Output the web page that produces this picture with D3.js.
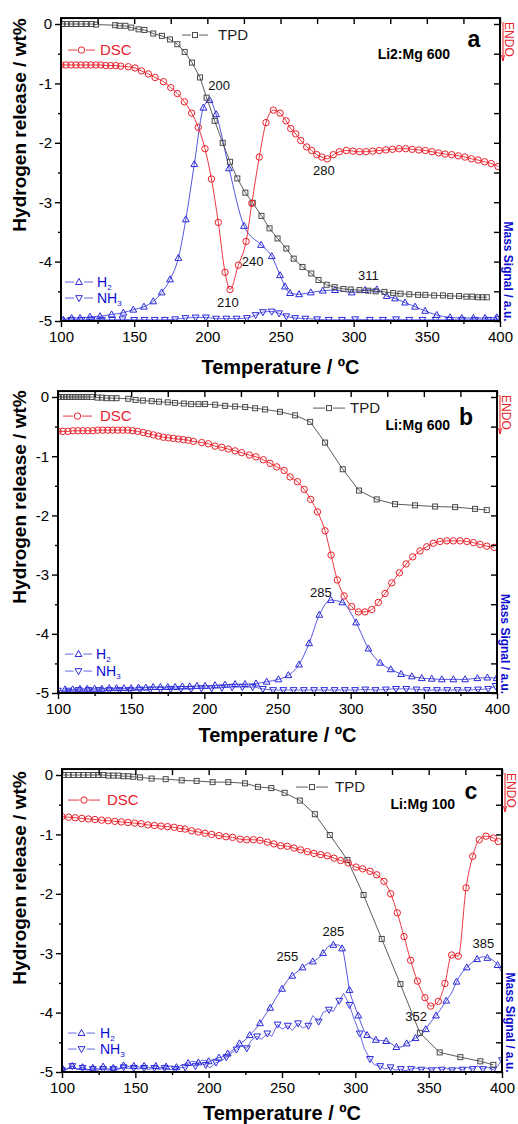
<!DOCTYPE html>
<html lang="en">
<head>
<meta charset="UTF-8">
<title>TPD / DSC / MS - Li:Mg samples</title>
<script src="https://cdn.jsdelivr.net/npm/d3@7"></script>
<style>
  body { margin: 0; background: #fff; }
  svg { font-family: Arial, "Liberation Sans", sans-serif; }
</style>
</head>
<body>
<div id="chart"></div>
<script>
// ---- tick values ----
var xMajor = [100, 150, 200, 250, 300, 350, 400];
var xMinor = [125, 175, 225, 275, 325, 375];
var xAll = [100, 125, 150, 175, 200, 225, 250, 275, 300, 325, 350, 375, 400];
var yMajor = [0, -1, -2, -3, -4, -5];
var yMinor = [-0.5, -1.5, -2.5, -3.5, -4.5];
var yAll = [0, -0.5, -1, -1.5, -2, -2.5, -3, -3.5, -4, -4.5, -5];

// ---- panel a : Li2:Mg 600 ----  [temperature, value]
var tpdA = [[101,0],[104,0],[107,0],[110,0],[114,0],[117,0],[121,0],[124,-0.01],[137,-0.02],[140,-0.03],[144,-0.03],
  [148,-0.06],[153,-0.09],[157,-0.1],[163,-0.16],[169,-0.2],[174.5,-0.26],[179.5,-0.34],[184.5,-0.47],[189.5,-0.65],
  [195,-0.9],[199.5,-1.24],[205,-1.63],[210.5,-2.0],[215.5,-2.32],[220.5,-2.6],[226,-2.84],[231,-3.01],[237,-3.23],
  [242.5,-3.44],[248,-3.61],[254,-3.78],[259,-3.95],[265,-4.09],[271,-4.2],[276,-4.31],[281.5,-4.39],[287,-4.43],
  [293,-4.46],[298,-4.47],[304,-4.48],[310,-4.49],[315,-4.5],[321,-4.51],[327,-4.53],[332,-4.54],[338,-4.55],
  [344,-4.56],[349,-4.56],[355,-4.57],[361,-4.57],[366,-4.58],[372,-4.58],[377,-4.59],[381,-4.59],[385,-4.6],
  [388,-4.6],[391,-4.6]];
var dscA = [[100,-0.69],[103.4,-0.69],[106.8,-0.69],[110.2,-0.69],[113.6,-0.69],[117,-0.69],[120.4,-0.69],
  [123.8,-0.69],[127.2,-0.69],[130.6,-0.7],[134,-0.7],[137.4,-0.7],[140.8,-0.71],[146,-0.72],[150.6,-0.74],
  [155,-0.79],[159.7,-0.84],[164.3,-0.9],[170,-0.97],[175,-1.07],[179.5,-1.17],[184.3,-1.31],[189.3,-1.5],
  [193.8,-1.74],[198.4,-2.1],[202.8,-2.61],[207.5,-3.34],[212.1,-4.18],[215.5,-4.47],[221.2,-4.06],[226.5,-3.66],
  [230.4,-3.02],[235.5,-2.24],[240.1,-1.66],[245.1,-1.45],[249.7,-1.5],[253.8,-1.63],[257,-1.76],[260.4,-1.85],
  [263.8,-1.96],[267.9,-2.07],[271.3,-2.13],[274.8,-2.2],[278.2,-2.24],[282,-2.27],[286.1,-2.2],[290.2,-2.15],
  [295,-2.13],[299.5,-2.14],[304,-2.15],[308.5,-2.15],[313,-2.14],[317.5,-2.13],[322,-2.12],[326.5,-2.11],
  [331,-2.1],[335.5,-2.1],[340,-2.11],[344.5,-2.12],[349,-2.13],[353.5,-2.15],[358,-2.17],[362.5,-2.19],
  [367,-2.2],[371.5,-2.22],[376,-2.24],[380.5,-2.27],[385,-2.29],[389.5,-2.32],[394,-2.35],[398.7,-2.4]];
var h2A = [[101.6,-4.98],[107.3,-4.95],[113,-4.95],[119.8,-4.93],[126.7,-4.92],[134.6,-4.89],[142.6,-4.86],
  [149.4,-4.81],[156.7,-4.76],[163,-4.67],[168.8,-4.52],[174.5,-4.3],[180.2,-3.94],[185.3,-3.29],[191.1,-2.36],
  [197.3,-1.41],[201.5,-1.28],[206,-1.52],[214.8,-2.43],[225.1,-3.4],[236.7,-3.72],[244,-3.91],[249.7,-4.23],
  [253.1,-4.42],[256.5,-4.53],[262.7,-4.55],[270.7,-4.52],[278.9,-4.49],[287.3,-4.48],[298.7,-4.52],[307.8,-4.48],
  [315.8,-4.47],[322.6,-4.58],[328.3,-4.62],[335.1,-4.69],[342,-4.76],[348.8,-4.83],[356.8,-4.9],[365.9,-4.94],
  [373.9,-4.95],[381.8,-4.95],[389.8,-4.95],[397.8,-4.94]];
var nh3A = [[100,-4.99],[107,-4.98],[114,-4.98],[121,-4.98],[128,-4.98],[135,-4.98],[142,-4.97],[150,-4.98],
  [157,-4.98],[164,-4.98],[171,-4.98],[178,-4.97],[185,-4.95],[192,-4.94],[199,-4.94],[206,-4.96],[213,-4.96],
  [220,-4.96],[227,-4.95],[233,-4.9],[238,-4.85],[244,-4.84],[249,-4.87],[254,-4.92],[260,-4.95],[267,-4.96],
  [275,-4.97],[283,-4.98],[292,-4.98],[301,-4.97],[311,-4.98],[320,-4.98],[329,-4.97],[338,-4.98],[347,-4.98],
  [356,-4.98],[365,-4.98],[374,-4.98],[383,-4.98],[392,-4.98],[399,-4.96]];
var notesA = [["200", 208, -1.03], ["240", 231, -3.99], ["210", 214, -4.68], ["311", 310, -4.23], ["280", 279.6, -2.46]];

// ---- panel b : Li:Mg 600 ----
var tpdB = [[100,0],[102,0],[104,0],[106,0],[108,0],[110,0],[112,0],[114,0],[116,0],[118,0],[120,0],[123,0],
  [127,-0.01],[130,-0.01],[133,-0.02],[137,-0.02],[140,-0.02],[148,-0.03],[153,-0.05],[158,-0.06],[164,-0.07],
  [169,-0.08],[175,-0.09],[180,-0.1],[186,-0.11],[191,-0.12],[196,-0.12],[200.5,-0.12],[207.4,-0.13],[214.2,-0.15],
  [221,-0.16],[227.9,-0.17],[234.7,-0.19],[241.5,-0.21],[251.7,-0.25],[262,-0.31],[272.3,-0.42],[282.5,-0.77],
  [294.6,-1.22],[305.7,-1.58],[317.8,-1.73],[330.3,-1.81],[344,-1.83],[357.7,-1.85],[371.4,-1.86],[385,-1.89],
  [393,-1.91]];
var dscB = [[100,-0.58],[103.4,-0.58],[106.8,-0.58],[110.2,-0.57],[113.6,-0.57],[117,-0.57],[120.4,-0.57],
  [123.8,-0.57],[127.2,-0.56],[130.6,-0.56],[134,-0.56],[137.4,-0.56],[140.8,-0.56],[144.2,-0.56],[147.6,-0.56],
  [151,-0.57],[154.4,-0.58],[158.3,-0.6],[161.7,-0.62],[165.2,-0.64],[168.6,-0.66],[172,-0.68],[175.4,-0.69],
  [178.8,-0.7],[182.2,-0.71],[185.6,-0.72],[189,-0.73],[192.5,-0.75],[198.2,-0.77],[202.8,-0.79],[207.3,-0.83],
  [211.9,-0.85],[216.4,-0.88],[221,-0.91],[225.5,-0.94],[230.8,-0.98],[235.3,-1.01],[240.3,-1.06],[244.9,-1.12],
  [249.5,-1.18],[254.5,-1.24],[258.6,-1.35],[263.6,-1.43],[268.2,-1.56],[272.7,-1.73],[277.3,-1.94],[282.5,-2.26],
  [286.6,-2.67],[290.9,-3.09],[295.5,-3.36],[300.7,-3.54],[305.3,-3.63],[309.8,-3.63],[314.4,-3.59],[318.9,-3.47],
  [323.5,-3.32],[328.1,-3.14],[333.3,-2.97],[337.9,-2.82],[342.4,-2.7],[347.4,-2.6],[352,-2.53],[356.5,-2.47],
  [361.1,-2.44],[365.7,-2.43],[370.2,-2.43],[374.8,-2.43],[379.4,-2.44],[383.9,-2.46],[388.4,-2.49],[393,-2.52],
  [398,-2.54]];
var h2B = [[104.8,-4.94],[110,-4.94],[115,-4.93],[120,-4.93],[125,-4.93],[130,-4.93],[135,-4.92],[140,-4.92],
  [145,-4.92],[150,-4.92],[155,-4.91],[160,-4.91],[165,-4.9],[170,-4.9],[175,-4.9],[180,-4.9],[185,-4.89],
  [190,-4.89],[195,-4.88],[200.5,-4.88],[207.3,-4.87],[214.1,-4.86],[221,-4.85],[227.8,-4.85],[235.3,-4.84],
  [242.6,-4.81],[250.6,-4.77],[257.4,-4.7],[264.7,-4.52],[271.6,-4.16],[278.6,-3.68],[286.4,-3.43],[294.3,-3.47],
  [303.7,-3.81],[312.1,-4.25],[320.1,-4.49],[327.4,-4.6],[334.5,-4.68],[341.8,-4.72],[348.6,-4.75],[355.4,-4.76],
  [362.3,-4.77],[370.2,-4.77],[378.2,-4.77],[386.6,-4.75],[393.4,-4.74],[399.8,-4.75]];
var nh3B = [[100,-4.96],[107,-4.96],[114,-4.95],[121,-4.95],[128,-4.95],[135,-4.95],[142,-4.95],[149,-4.95],
  [156,-4.94],[163,-4.94],[170,-4.94],[177,-4.93],[184,-4.93],[191,-4.93],[198,-4.92],[205,-4.92],[212,-4.91],
  [219,-4.9],[226,-4.9],[233,-4.9],[240,-4.93],[247,-4.95],[254,-4.95],[261,-4.95],[268,-4.95],[275,-4.95],
  [282,-4.95],[289,-4.95],[296,-4.95],[303,-4.95],[310,-4.94],[317,-4.95],[324,-4.94],[331,-4.93],[338,-4.93],
  [345,-4.94],[352,-4.95],[359,-4.95],[366,-4.95],[373,-4.95],[380,-4.95],[387,-4.94],[394,-4.93],[399,-4.88]];
var notesB = [["285", 279.6, -3.29]];

// ---- panel c : Li:Mg 100 ----
var tpdC = [[101,0],[104.4,0],[107.8,0],[111.2,0],[114.6,0],[118,0],[121.4,0],[124.8,0],[128.2,0],[131.6,-0.01],
  [135,-0.01],[138.4,-0.01],[141.8,-0.02],[145.2,-0.02],[148.6,-0.03],[153.2,-0.04],[161.1,-0.06],[170.7,-0.07],
  [181.6,-0.09],[191.8,-0.1],[202.7,-0.12],[213.4,-0.12],[224.8,-0.14],[233.6,-0.2],[242.7,-0.22],[251.8,-0.3],
  [262.2,-0.43],[272.4,-0.66],[282.6,-1.01],[294.6,-1.43],[305.6,-2.02],[318,-2.76],[330.7,-3.52],[344,-4.34],
  [357.5,-4.67],[371.6,-4.75],[385.2,-4.82],[394.1,-4.88]];
var dscC = [[100,-0.7],[104.5,-0.71],[109,-0.72],[113.5,-0.73],[118,-0.74],[122.5,-0.75],[127,-0.76],[131.5,-0.77],
  [136,-0.78],[140.5,-0.79],[145,-0.8],[149.5,-0.81],[154,-0.82],[158.5,-0.84],[163,-0.85],[167.5,-0.86],
  [172,-0.87],[176.5,-0.88],[180.5,-0.9],[183.9,-0.91],[188.4,-0.94],[192.9,-0.96],[197.5,-0.98],[202,-1.0],
  [207,-1.02],[211.8,-1.04],[216.3,-1.05],[221.4,-1.08],[225.9,-1.09],[230.5,-1.09],[235,-1.1],[240,-1.13],
  [244.5,-1.16],[249.1,-1.19],[253.6,-1.2],[258.2,-1.23],[262.7,-1.26],[267.3,-1.29],[271.8,-1.32],[276.4,-1.34],
  [280.9,-1.36],[285.5,-1.4],[290,-1.44],[295.2,-1.48],[300.5,-1.55],[305,-1.58],[310,-1.62],[314.6,-1.68],
  [319.5,-1.79],[324.1,-2.0],[328.6,-2.32],[333.2,-2.72],[337.7,-3.12],[342.3,-3.47],[347.5,-3.75],[351.4,-3.89],
  [356.6,-3.81],[361.1,-3.51],[365.7,-3.03],[370.2,-3.05],[375.5,-1.9],[380,-1.37],[384.5,-1.09],[389.1,-1.03],
  [394.1,-1.06],[397.5,-1.12]];
var h2C = [[100,-4.93],[103,-4.96],[107,-4.9],[111,-4.95],[114,-4.92],[118,-4.96],[121,-4.93],[125,-4.95],
  [128,-4.91],[132,-4.95],[135,-4.93],[139,-4.94],[142,-4.89],[146,-4.91],[149,-4.9],[153,-4.92],[156,-4.9],
  [160,-4.93],[164,-4.9],[167,-4.93],[171,-4.91],[175,-4.9],[178,-4.92],[182,-4.88],[186,-4.85],[189,-4.82],
  [193,-4.84],[196,-4.8],[200,-4.82],[203,-4.79],[207,-4.76],[210,-4.74],[213,-4.69],[217,-4.62],[221,-4.52],
  [224,-4.48],[228,-4.38],[231,-4.3],[235,-4.18],[238,-4.06],[242,-3.92],[246,-3.75],[250,-3.6],[254,-3.45],
  [257,-3.38],[261,-3.3],[264,-3.24],[268,-3.17],[271,-3.14],[275,-3.08],[278,-3.0],[282,-2.88],[285,-2.86],
  [288,-2.86],[291,-2.92],[294,-3.3],[296,-3.62],[299,-3.85],[302,-4.05],[305,-4.25],[308,-4.38],[311,-4.43],
  [314,-4.46],[318,-4.47],[321,-4.48],[325,-4.53],[328,-4.58],[331,-4.58],[335,-4.52],[338,-4.48],[341,-4.43],
  [344,-4.39],[348,-4.28],[351,-4.17],[355,-4.05],[358,-3.95],[362,-3.8],[366,-3.65],[369,-3.48],[373,-3.32],
  [376,-3.24],[379,-3.17],[383,-3.1],[387,-3.06],[390,-3.08],[394,-3.12],[397,-3.2],[400,-3.33]];
var nh3C = [[100,-4.97],[103,-4.95],[107,-4.9],[110,-4.96],[114,-4.93],[117,-4.97],[121,-4.95],[124,-4.97],
  [128,-4.95],[131,-4.97],[135,-4.95],[138,-4.96],[142,-4.92],[145,-4.94],[149,-4.93],[152,-4.95],[156,-4.93],
  [159,-4.96],[163,-4.93],[166,-4.96],[170,-4.93],[173,-4.96],[177,-4.95],[180,-4.93],[184,-4.92],[187,-4.86],
  [191,-4.9],[194,-4.85],[198,-4.88],[201,-4.93],[205,-4.84],[208,-4.82],[212,-4.75],[215,-4.69],[219,-4.62],
  [222,-4.56],[226,-4.6],[229,-4.47],[233,-4.4],[236,-4.45],[240,-4.35],[243,-4.4],[247,-4.2],[250,-4.28],
  [254,-4.22],[257,-4.3],[261,-4.18],[264,-4.26],[268,-4.22],[271,-4.05],[275,-4.15],[278,-4.0],[282,-3.95],
  [285,-3.98],[289,-3.8],[292,-3.68],[296,-3.87],[299,-4.1],[303,-4.35],[306,-4.6],[310,-4.78],[313,-4.88],
  [317,-4.9],[320,-4.95],[324,-4.92],[327,-4.97],[331,-4.95],[334,-4.98],[338,-4.95],[341,-4.93],[345,-4.96],
  [348,-4.93],[352,-4.97],[355,-4.92],[359,-4.96],[362,-4.94],[366,-4.97],[369,-4.93],[373,-4.96],[376,-4.92],
  [380,-4.95],[383,-4.9],[387,-4.95],[390,-4.92],[394,-4.96],[397,-4.9],[400,-4.8]];
var notesC = [["255", 253.6, -3.04], ["285", 285, -2.62], ["352", 341.4, -4.05], ["385", 387.3, -2.83]];

// colours
var cTPD = "#4a4a4a", cDSC = "#e8202a", cMS = "#2a2ad8", cMSText = "#0b0bd0";

var W = 518, H = 1124;
var svg = d3.select("#chart").append("svg").attr("width", W).attr("height", H);

var panels = [
  { letter: "a", name: "Li2:Mg 600", left: 61, right: 500, y0: 24, y5: 321, yTitleC: 125, xTitleDy: 53, tpd: tpdA, dsc: dscA, h2: h2A, nh3: nh3A, notes: notesA, h2Every: 1, nh3Every: 1, nh3Curve: d3.curveMonotoneX,
    tpdLeg: [121, 147, 157, 17], dscLeg: [7, 34, 39, 32], nameXY: [389, 36], letterXY: [413, 21], msLeg: [4, 32, 36, 264, 280] },
  { letter: "b", name: "Li:Mg 600", left: 58, right: 497, y0: 397, y5: 693, yTitleC: 497, xTitleDy: 49, tpd: tpdB, dsc: dscB, h2: h2B, nh3: nh3B, notes: notesB, h2Every: 1, nh3Every: 1, nh3Curve: d3.curveMonotoneX,
    tpdLeg: [255, 287, 292, 17], dscLeg: [5, 34, 42, 25], nameXY: [392, 34], letterXY: [408, 26], msLeg: [7, 34, 38, 263, 280] },
  { letter: "c", name: "Li:Mg 100", left: 62, right: 502, y0: 775, y5: 1072, yTitleC: 878, xTitleDy: 48, tpd: tpdC, dsc: dscC, h2: h2C, nh3: nh3C, notes: notesC, h2Every: 2, nh3Every: 2, nh3Curve: d3.curveLinear,
    tpdLeg: [234, 266, 273, 18], dscLeg: [6, 38, 45, 31], nameXY: [393, 35], letterXY: [409, 22], msLeg: [6, 33, 38, 264, 280] }
];

function square(g, px, py, color) {
  g.append("rect").attr("x", px - 2.5).attr("y", py - 2.5).attr("width", 5).attr("height", 5)
    .attr("fill", "none").attr("stroke", color).attr("stroke-width", 1);
}
function circle(g, px, py, color) {
  g.append("circle").attr("cx", px).attr("cy", py).attr("r", 3.2)
    .attr("fill", "none").attr("stroke", color).attr("stroke-width", 1);
}
function triangle(g, px, py, color, down) {
  var s = down ? -1 : 1;
  g.append("path")
    .attr("d", "M" + px + "," + (py - 3.6 * s) + "L" + (px + 3.4) + "," + (py + 2.4 * s) + "L" + (px - 3.4) + "," + (py + 2.4 * s) + "Z")
    .attr("fill", "none").attr("stroke", color).attr("stroke-width", 1);
}

panels.forEach(function(p) {
  var x = d3.scaleLinear().domain([100, 400]).range([p.left, p.right]);
  var y = d3.scaleLinear().domain([-5, 0]).range([p.y5, p.y0]);
  var top = y(0.1), bottom = y(-5);
  var g = svg.append("g");

  var clipId = "clip-" + p.letter;
  g.append("clipPath").attr("id", clipId).append("rect")
    .attr("x", p.left).attr("y", top).attr("width", p.right - p.left).attr("height", bottom - top);

  var plot = g.append("g").attr("clip-path", "url(#" + clipId + ")");

  function series(data, color, marker, every, curve, width) {
    var line = d3.line().x(function(d) { return x(d[0]); }).y(function(d) { return y(d[1]); }).curve(curve || d3.curveMonotoneX);
    plot.append("path").datum(data).attr("d", line)
      .attr("fill", "none").attr("stroke", color).attr("stroke-width", width || 0.8);
    var mg = plot.append("g");
    data.forEach(function(d, i) {
      if (i % every === 0) marker(mg, x(d[0]), y(d[1]), color);
    });
  }

  series(p.nh3, cMS, function(m, a, b, c) { triangle(m, a, b, c, true); }, p.nh3Every, p.nh3Curve, 0.7);
  series(p.h2, cMS, function(m, a, b, c) { triangle(m, a, b, c, false); }, p.h2Every, d3.curveMonotoneX, 0.8);
  series(p.tpd, cTPD, square, 1, d3.curveLinear, 0.9);
  series(p.dsc, cDSC, circle, 1, d3.curveMonotoneX, 0.9);

  // axes
  var fmt = function(d) { return String(d); };
  g.append("g").attr("transform", "translate(0," + bottom + ")")
    .call(d3.axisBottom(x).tickValues(xMajor).tickFormat(fmt).tickSize(6).tickSizeOuter(0).tickPadding(4));
  g.append("g").attr("transform", "translate(0," + bottom + ")")
    .call(d3.axisBottom(x).tickValues(xMinor).tickFormat("").tickSize(3).tickSizeOuter(0));
  g.append("g").attr("transform", "translate(0," + top + ")")
    .call(d3.axisTop(x).tickValues(xAll).tickFormat("").tickSize(-6).tickSizeOuter(0));
  g.append("g").attr("transform", "translate(" + p.left + ",0)")
    .call(d3.axisLeft(y).tickValues(yMajor).tickFormat(fmt).tickSize(6).tickSizeOuter(0).tickPadding(3));
  g.append("g").attr("transform", "translate(" + p.left + ",0)")
    .call(d3.axisLeft(y).tickValues(yMinor).tickFormat("").tickSize(3).tickSizeOuter(0));
  g.append("g").attr("transform", "translate(" + p.right + ",0)")
    .call(d3.axisRight(y).tickValues(yAll).tickFormat("").tickSize(-6).tickSizeOuter(0));

  g.selectAll(".domain").remove();
  g.selectAll(".tick line").attr("stroke", "#000").attr("stroke-width", 1.4);
  g.selectAll(".tick text").attr("font-size", 15).attr("fill", "#000")
    .attr("font-family", "Arial, 'Liberation Sans', sans-serif");

  g.append("rect").attr("x", p.left).attr("y", top).attr("width", p.right - p.left).attr("height", bottom - top)
    .attr("fill", "none").attr("stroke", "#000").attr("stroke-width", 2);

  // axis titles
  g.append("text").attr("x", (p.left + p.right) / 2).attr("y", bottom + p.xTitleDy)
    .attr("text-anchor", "middle").attr("font-size", 20).attr("font-weight", "bold")
    .text("Temperature / \u00baC");
  g.append("text").attr("transform", "translate(26," + p.yTitleC + ") rotate(-90)")
    .attr("text-anchor", "middle").attr("font-size", 19).attr("font-weight", "bold")
    .text("Hydrogen release / wt%");
  g.append("text").attr("transform", "translate(" + (p.right + 4) + "," + ((top + bottom) / 2 + 102) + ") rotate(90)")
    .attr("text-anchor", "middle").attr("font-size", 12).attr("font-weight", "bold").attr("fill", cMSText)
    .text("Mass Signal / a.u.");

  // ENDO marker
  g.append("text").attr("transform", "translate(" + (p.right + 5) + "," + (top + 4) + ") rotate(90)")
    .attr("font-size", 12).attr("fill", cDSC).text("ENDO");
  g.append("line").attr("x1", p.right + 3).attr("x2", p.right + 3).attr("y1", top + 4).attr("y2", top + 42)
    .attr("stroke", cDSC).attr("stroke-width", 1);
  g.append("path").attr("d", "M" + (p.right + 1.5) + "," + (top + 37) + "L" + (p.right + 3) + "," + (top + 43) + "L" + (p.right + 4.5) + "," + (top + 37))
    .attr("fill", "none").attr("stroke", cDSC).attr("stroke-width", 1);

  // legends
  var L = p.left, T = top;
  var tl = p.tpdLeg;
  g.append("line").attr("x1", L + tl[0]).attr("x2", L + tl[1]).attr("y1", T + tl[3]).attr("y2", T + tl[3]).attr("stroke", cTPD).attr("stroke-width", 0.9);
  g.append("rect").attr("x", L + (tl[0] + tl[1]) / 2 - 4).attr("y", T + tl[3] - 4).attr("width", 8).attr("height", 8).attr("fill", "#fff");
  square(g, L + (tl[0] + tl[1]) / 2, T + tl[3], cTPD);
  g.append("text").attr("x", L + tl[2]).attr("y", T + tl[3] + 5).attr("font-size", 15).attr("fill", "#222").text("TPD");

  var dl = p.dscLeg;
  g.append("line").attr("x1", L + dl[0]).attr("x2", L + dl[1]).attr("y1", T + dl[3]).attr("y2", T + dl[3]).attr("stroke", cDSC).attr("stroke-width", 0.9);
  g.append("circle").attr("cx", L + (dl[0] + dl[1]) / 2).attr("cy", T + dl[3]).attr("r", 4.5).attr("fill", "#fff");
  circle(g, L + (dl[0] + dl[1]) / 2, T + dl[3], cDSC);
  g.append("text").attr("x", L + dl[2]).attr("y", T + dl[3] + 5).attr("font-size", 15).attr("fill", cDSC).text("DSC");

  var ml = p.msLeg;
  [["H", "2", false, ml[3]], ["NH", "3", true, ml[4]]].forEach(function(e) {
    var yy = T + e[3];
    g.append("line").attr("x1", L + ml[0]).attr("x2", L + ml[1]).attr("y1", yy).attr("y2", yy).attr("stroke", cMS).attr("stroke-width", 0.7);
    g.append("rect").attr("x", L + (ml[0] + ml[1]) / 2 - 5).attr("y", yy - 5).attr("width", 10).attr("height", 10).attr("fill", "#fff");
    triangle(g, L + (ml[0] + ml[1]) / 2, yy, cMS, e[2]);
    var t = g.append("text").attr("x", L + ml[2]).attr("y", yy + 5).attr("font-size", 14).attr("fill", cMSText);
    t.append("tspan").text(e[0]);
    t.append("tspan").attr("font-size", 8).attr("dy", 3).text(e[1]);
  });

  g.append("text").attr("x", L + p.nameXY[0]).attr("y", T + p.nameXY[1] + 5).attr("text-anchor", "end")
    .attr("font-size", 14).attr("font-weight", "bold").text(p.name);
  g.append("text").attr("x", L + p.letterXY[0]).attr("y", T + p.letterXY[1] + 8).attr("text-anchor", "middle")
    .attr("font-size", 23).attr("font-weight", "bold").text(p.letter);

  // peak temperature labels
  g.selectAll("text.note").data(p.notes).enter().append("text").attr("class", "note")
    .attr("x", function(d) { return x(d[1]); }).attr("y", function(d) { return y(d[2]) + 5; })
    .attr("text-anchor", "middle").attr("font-size", 13).attr("fill", "#111")
    .text(function(d) { return d[0]; });
});
</script>
</body>
</html>
